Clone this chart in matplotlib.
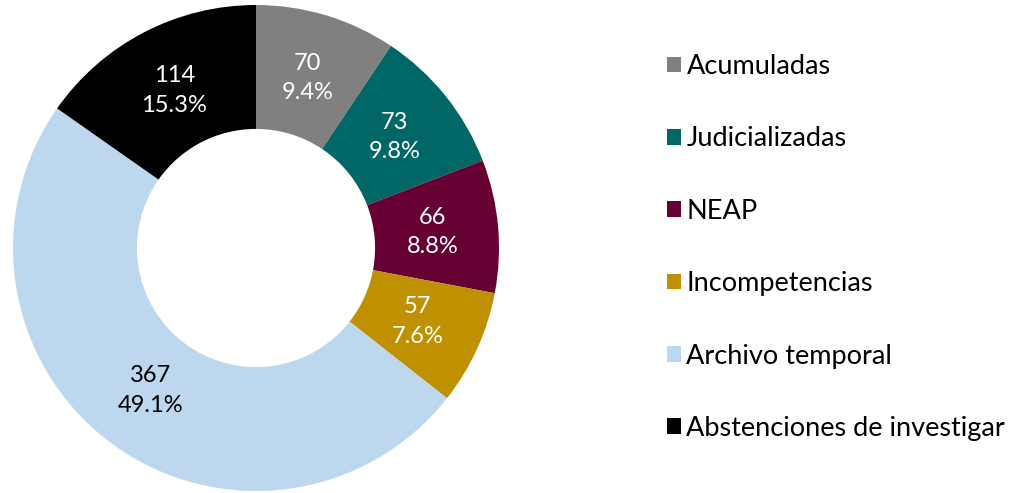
import matplotlib
matplotlib.use('Agg')
import matplotlib.pyplot as plt
import numpy as np

categorias = ['Acumuladas', 'Judicializadas', 'NEAP', 'Incompetencias',
              'Archivo temporal', 'Abstenciones de investigar']
valores = [70, 73, 66, 57, 367, 114]
colores = ['#808080', '#006666', '#660033', '#BF9000', '#BDD7EE', '#000000']
color_texto = ['white', 'white', 'white', 'white', 'black', 'white']

plt.rcParams['font.family'] = ['Lato', 'DejaVu Sans']

total = sum(valores)
fig = plt.figure(figsize=(10.28, 4.93), dpi=100)
ax = fig.add_axes([13/1028, 2/493, 486/1028, 486/493])

wedges, _ = ax.pie(valores, colors=colores, startangle=90, counterclock=False,
                   radius=1, wedgeprops=dict(width=0.51, edgecolor='none'))

# etiquetas con valor y porcentaje en el centro de cada sector
ang = 90.0
for w, v, c in zip(wedges, valores, color_texto):
    span = v / total * 360
    mid = np.deg2rad(ang - span / 2)
    ang -= span
    r = 0.73
    ax.text(r * np.cos(mid), r * np.sin(mid), f"{v}\n{v / total * 100:.1f}%",
            ha='center', va='center', color=c, fontsize=17, linespacing=1.5)

ax.set_xlim(-1, 1)
ax.set_ylim(-1, 1)
ax.set_aspect('equal')
ax.axis('off')

leg = fig.legend(wedges, categorias, loc='upper left',
                 bbox_to_anchor=(667/1028, 1 - 54/493), frameon=False,
                 borderpad=0, borderaxespad=0,
                 fontsize=19.5, handlelength=0.52, handleheight=0.52,
                 handletextpad=0.2, labelspacing=1.75)

fig.savefig('out.png', dpi=100)
